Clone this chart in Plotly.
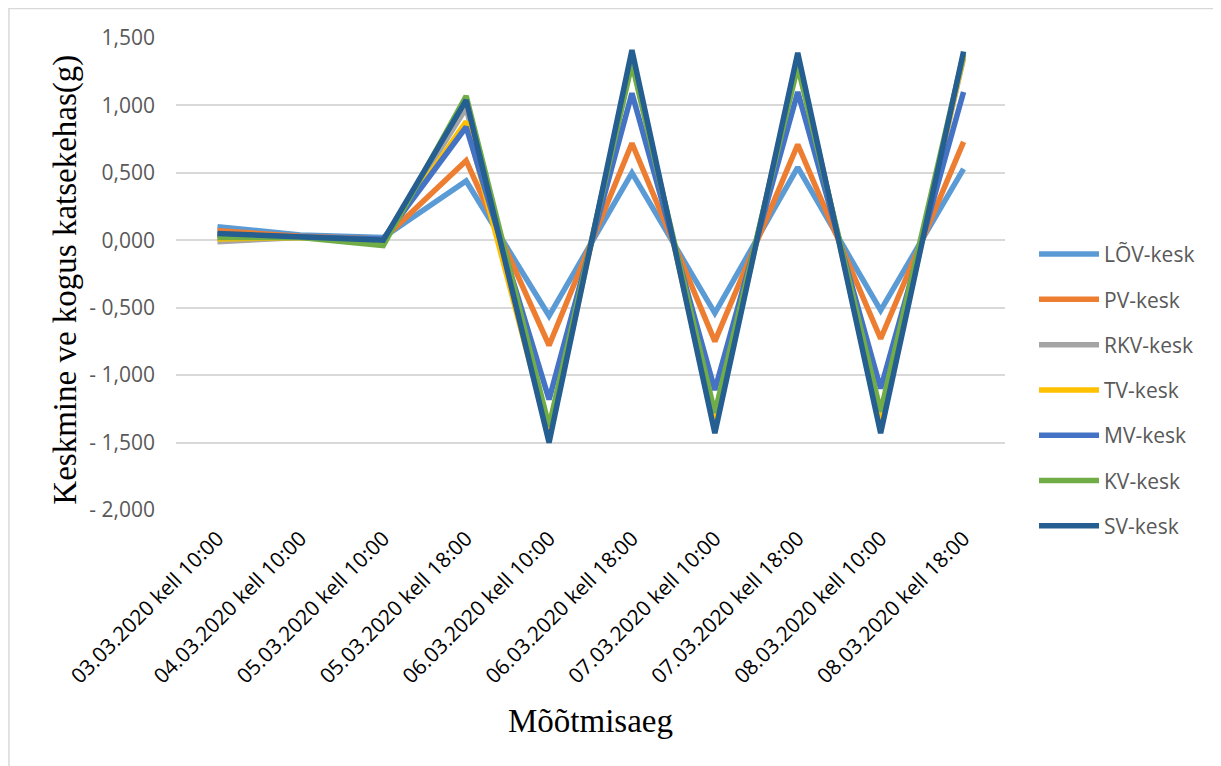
import plotly.graph_objects as go

categories = ["03.03.2020 kell 10:00", "04.03.2020 kell 10:00", "05.03.2020 kell 10:00",
              "05.03.2020 kell 18:00", "06.03.2020 kell 10:00", "06.03.2020 kell 18:00",
              "07.03.2020 kell 10:00", "07.03.2020 kell 18:00", "08.03.2020 kell 10:00",
              "08.03.2020 kell 18:00"]

lov_kesk = [0.10, 0.04, 0.02, 0.44, -0.56, 0.50, -0.54, 0.54, -0.52, 0.53]
pv_kesk = [0.07, 0.03, 0.01, 0.59, -0.78, 0.72, -0.75, 0.71, -0.73, 0.73]
rkv_kesk = [-0.01, 0.02, 0.00, 0.98, -1.40, 1.33, -1.35, 1.33, -1.33, 1.35]
tv_kesk = [0.01, 0.02, 0.00, 0.88, -1.45, 1.35, -1.38, 1.35, -1.38, 1.37]
mv_kesk = [0.04, 0.02, 0.01, 0.84, -1.18, 1.09, -1.11, 1.10, -1.10, 1.10]
kv_kesk = [0.02, 0.02, -0.04, 1.07, -1.38, 1.31, -1.28, 1.29, -1.27, 1.38]
sv_kesk = [0.05, 0.02, 0.00, 1.04, -1.50, 1.41, -1.43, 1.39, -1.43, 1.40]

series_names = ["LÕV-kesk", "PV-kesk", "RKV-kesk", "TV-kesk", "MV-kesk", "KV-kesk", "SV-kesk"]
series_values = [lov_kesk, pv_kesk, rkv_kesk, tv_kesk, mv_kesk, kv_kesk, sv_kesk]
series_colors = ["#5B9BD5", "#ED7D31", "#A5A5A5", "#FFC000", "#4472C4", "#70AD47", "#255E91"]

y_tickvals = [1.5, 1.0, 0.5, 0.0, -0.5, -1.0, -1.5, -2.0]
y_ticktext = ["1,500", "1,000", "0,500", "0,000", "- 0,500", "- 1,000", "- 1,500", "- 2,000"]

y_title = "Keskmine ve kogus katsekehas(g)"
x_title = "Mõõtmisaeg"

fig = go.Figure()
for name, vals, col in zip(series_names, series_values, series_colors):
    fig.add_trace(go.Scatter(
        x=categories, y=vals, name=name, mode="lines",
        line=dict(color=col, width=5.5),
        legendgroup=name,
    ))

fig.update_layout(
    width=1213, height=758,
    margin=dict(l=168, r=216, t=30, b=256, autoexpand=False),
    paper_bgcolor="white", plot_bgcolor="white",
    font=dict(family="Open Sans", color="#595959"),
    showlegend=True,
    legend=dict(
        x=1.035, xanchor="left", y=0.585, yanchor="top",
        font=dict(family="Open Sans", size=21, color="#595959"),
        tracegroupgap=15, itemwidth=60,
        bgcolor="rgba(0,0,0,0)",
    ),
    xaxis=dict(
        type="category",
        range=[-0.5, len(categories) - 0.5],
        automargin=False,
        tickangle=-45,
        tickfont=dict(family="Open Sans", size=21, color="#000000"),
        showgrid=False, showline=False, zeroline=False,
        ticks="", ticklabelstandoff=11,
        title=dict(text=x_title, font=dict(family="Liberation Serif", size=33, color="#000000"), standoff=20),
    ),
    yaxis=dict(
        range=[-2.0, 1.5],
        automargin=False,
        tickvals=y_tickvals, ticktext=y_ticktext,
        tickfont=dict(family="Open Sans", size=21, color="#595959"),
        showgrid=True, gridcolor="#D9D9D9", gridwidth=1.5,
        zeroline=False, showline=False, ticks="",
        ticklabelstandoff=20,
    ),
    annotations=[dict(text=y_title, xref="paper", yref="paper", x=-0.1327, y=0.488,
                      xanchor="center", yanchor="middle", textangle=-90, showarrow=False,
                      font=dict(family="Liberation Serif", size=33, color="#000000"))],
    shapes=[dict(type="rect", xref="paper", yref="paper",
                 x0=-0.2015, x1=1.2545, y0=-0.58, y1=1.0625,
                 line=dict(color="#D9D9D9", width=1.5), fillcolor="rgba(0,0,0,0)", layer="below")],
)

fig.write_html("out.html")
